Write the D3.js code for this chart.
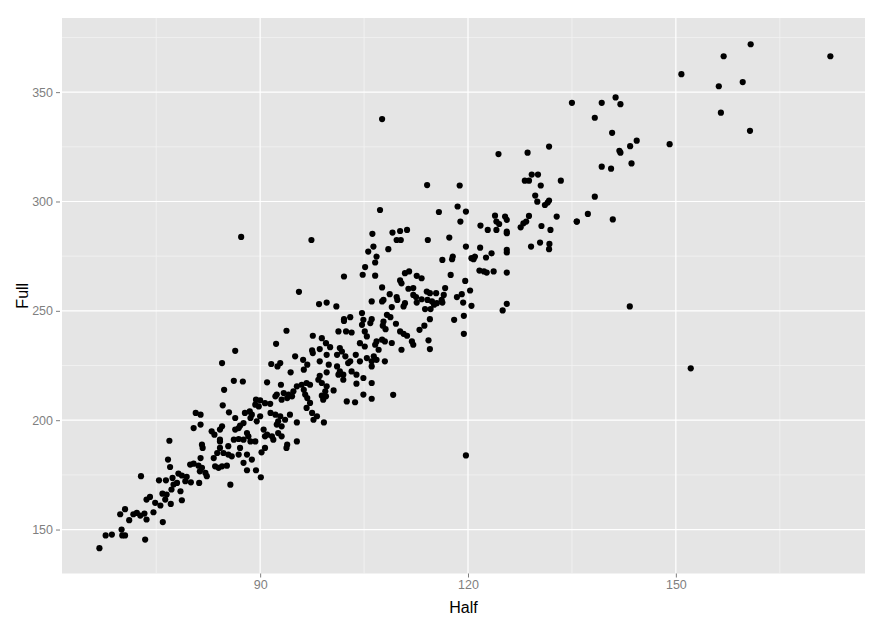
<!DOCTYPE html>
<html><head><meta charset="utf-8">
<script src="https://cdn.jsdelivr.net/npm/d3@7"></script>
<style>body{margin:0;background:#fff;}svg{display:block;font-family:"Liberation Sans",Arial,sans-serif;}</style>
</head><body><svg id="c" width="887" height="627"></svg>
<script>
const half = [
66.8,67.7,68.6,70.0,70.1,70.5,73.4,69.8,70.5,71.1,71.7,72.2,72.7,73.3,73.6,74.6,75.95,73.6,74.1,74.85,75.6,76.3,75.9,77.1,78.7,76.5,77.2,77.5,78.0,78.5,75.4,76.4,72.8,77.35,78.2,78.7,79.4,80.0,79.2,76.7,77.0,79.9,80.4,81.1,81.6,82.1,82.3,81.2,81.3,81.4,81.6,81.7,76.9,83.3,83.8,84.2,84.7,85.4,85.9,84.2,85.4,83.5,84.0,84.5,85.2,85.7,
84.8,86.2,87.5,91.0,93.0,95.3,94.8,94.1,93.4,92.4,92.2,93.1,93.9,94.6,89.4,90.0,89.3,89.8,90.7,91.45,84.6,85.5,80.7,81.4,81.4,80.4,86.4,87.8,88.5,88.8,88.6,87.6,87.1,86.9,89.5,90.0,91.5,92.2,92.9,92.6,92.4,93.1,93.6,94.3,95.3,86.4,83.0,83.4,84.2,84.5,84.2,86.2,86.9,87.6,88.1,88.3,88.6,89.3,90.5,91.0,90.7,91.7,91.9,92.6,93.1,93.9,93.8,95.3,90.7,90.2,87.1,86.9,88.1,88.8,87.6,88.1,89.4,90.1,
86.4,84.5,93.8,92.3,91.6,92.5,92.9,94.4,95.05,96.2,96.8,96.3,97.6,98.9,99.5,100.1,98.6,97.5,97.6,99.6,101.1,101.5,101.8,102.3,102.7,103.0,101.3,102.4,103.2,104.7,105.1,105.4,104.4,105.1,103.8,104.4,105.4,102.1,98.6,99.9,99.6,98.6,98.4,98.9,101.1,101.5,102.0,101.3,102.0,103.2,103.9,104.9,103.9,104.9,102.5,103.7,100.6,99.6,99.4,98.9,99.1,99.5,96.0,96.7,97.2,96.3,96.5,96.8,97.2,96.7,97.5,98.2,97.7,99.2,
95.6,102.1,105.15,106.6,104.8,106.6,98.5,99.6,101.0,107.6,107.8,107.6,106.1,108.7,109.7,109.8,109.0,110.2,110.4,110.9,111.5,112.6,113.3,111.4,112.1,112.1,112.5,113.3,114.05,114.5,115.4,114.15,114.8,115.5,115.1,113.8,114.6,110.9,110.7,112.6,104.7,104.9,106.1,105.9,102.1,103.0,107.8,108.3,108.8,107.7,108.1,106.6,106.8,107.6,108.0,109.0,107.1,106.4,106.1,106.8,109.6,110.2,110.7,111.2,111.9,112.1,110.4,113.0,113.7,114.3,114.5,114.5,108.0,106.1,
107.3,115.8,118.5,119.7,118.9,123.9,125.35,125.6,124.1,124.5,121.8,122.85,124.1,125.6,125.6,106.2,109.1,110.2,111.2,109.7,110.3,114.2,117.3,106.35,105.6,106.8,108.5,119.7,121.75,123.4,122.6,121.0,120.8,120.5,125.6,125.6,116.3,117.8,117.7,121.65,122.3,122.7,123.7,125.6,117.5,119.6,120.3,119.1,118.4,119.3,120.5,119.4,125.0,125.6,116.7,116.5,116.2,116.3,
124.4,128.6,131.7,129.2,130.1,128.2,128.8,130.5,133.4,118.8,129.7,130.0,131.1,131.5,131.7,127.6,128.0,128.4,128.8,130.6,131.9,132.8,135.7,129.1,130.4,131.75,131.7,
135.0,139.3,141.3,142.0,138.3,140.8,144.35,143.4,141.85,142.0,139.3,140.65,143.6,138.3,137.3,135.7,140.9,
160.8,156.9,172.3,150.8,156.2,159.65,156.5,160.7,149.1,
143.35,152.15,
118.0,119.4,109.2,106.1,106.1,119.7,
87.26,97.4,107.6,114.1
];
const full = [
141.5,147.3,147.7,150.0,147.3,147.3,145.4,157.0,159.3,154.3,157.0,157.6,156.4,157.3,154.6,157.9,153.4,163.7,164.9,162.2,161.0,163.7,166.4,161.7,163.4,166.0,168.3,170.6,171.3,167.5,172.5,172.5,174.4,173.6,175.6,174.7,174.1,171.6,172.1,182.0,178.6,179.7,180.1,179.2,178.2,175.9,174.4,171.3,176.6,182.7,188.8,187.3,190.6,182.7,185.0,187.3,185.0,184.3,183.5,190.3,188.1,178.9,178.2,178.9,179.2,170.5,
213.9,218.0,217.7,217.3,216.2,215.5,213.2,211.7,212.4,211.7,210.9,209.4,210.1,210.9,209.4,209.1,207.1,206.3,207.8,207.5,206.8,203.6,203.3,202.5,198.0,196.4,201.0,203.3,204.0,202.5,201.0,198.7,197.5,196.4,199.5,201.8,203.3,202.5,201.8,199.5,198.0,197.2,200.2,202.5,199.0,195.7,194.9,193.4,195.7,197.2,191.1,191.1,191.4,191.1,194.1,192.6,190.3,190.3,195.7,193.4,192.6,192.6,191.1,194.1,192.6,188.8,187.3,190.3,187.3,185.3,187.3,184.3,184.3,182.0,180.5,177.1,177.1,173.9,
231.7,226.1,240.9,234.9,225.7,224.6,226.1,221.9,229.2,227.6,225.4,223.1,238.6,237.5,235.2,233.4,232.5,231.9,230.7,229.9,229.9,233.0,231.4,229.2,226.1,226.9,240.6,240.6,240.1,243.6,240.6,238.3,235.2,233.7,229.9,226.9,228.4,245.4,226.9,225.4,221.9,220.3,218.5,217.0,224.6,222.3,220.8,220.8,218.5,222.3,220.8,219.3,216.7,211.7,208.6,208.2,213.6,215.5,213.2,211.2,209.4,210.9,216.2,217.0,216.2,213.9,211.7,210.1,207.9,205.6,203.3,201.8,200.2,199.0,
258.7,265.7,270.0,272.1,266.5,266.1,253.1,253.8,252.0,260.7,255.0,254.3,254.3,257.6,256.3,255.0,251.7,263.9,262.6,267.2,268.0,266.0,264.9,260.1,260.4,257.3,256.3,255.3,258.8,258.1,258.1,255.0,254.3,253.5,252.8,250.8,250.8,253.5,252.0,253.8,249.0,245.9,246.2,244.4,246.2,247.1,245.1,248.2,247.1,243.2,241.6,234.5,236.0,236.8,236.0,235.3,232.2,229.2,226.9,227.6,244.1,240.6,239.5,238.6,236.0,234.5,232.2,241.3,243.2,236.5,232.5,246.2,226.9,224.6,
296.1,295.2,297.7,295.4,290.8,293.5,293.1,291.6,290.8,289.7,289.0,287.0,287.0,286.2,285.5,285.2,285.8,286.5,287.0,282.4,282.4,282.4,283.5,279.4,277.1,274.8,278.2,279.4,278.9,276.3,274.4,274.8,273.6,274.1,277.9,276.7,273.3,274.8,273.6,268.4,268.0,267.5,268.0,267.5,266.4,263.7,259.3,257.6,256.3,253.8,252.3,247.7,250.2,253.2,260.4,257.3,255.0,253.8,
321.7,322.3,325.1,312.3,312.3,309.5,309.5,307.3,309.5,307.3,302.7,299.9,298.4,299.5,300.4,288.2,290.0,290.8,293.4,288.8,287.0,293.1,290.8,279.4,281.2,280.6,278.2,
345.1,345.1,347.6,344.5,338.3,331.4,327.8,325.3,323.2,322.3,315.9,315.0,317.4,302.2,294.3,290.8,291.8,
371.9,366.4,366.4,358.2,352.7,354.6,340.6,332.3,326.2,
252.0,223.7,
245.9,239.5,211.6,217.0,209.8,183.9,
283.8,282.4,337.7,307.5
];
const xTicks = [90, 120, 150];
const yTicks = [150, 200, 250, 300, 350];
const xMinor = [75, 105, 135, 165];
const yMinor = [175, 225, 275, 325, 375];

const svg = d3.select("#c");
const L = 62, R = 865, T = 18, B = 573.5;
const x = d3.scaleLinear().domain([61.4, 177.3]).range([L, R]);
const y = d3.scaleLinear().domain([129.9, 383.9]).range([B, T]);

svg.append("rect").attr("x", L).attr("y", T).attr("width", R - L).attr("height", B - T).attr("fill", "#E5E5E5");
const g = svg.append("g");
g.selectAll(".xm").data(xMinor).join("line").attr("x1", d => x(d)).attr("x2", d => x(d)).attr("y1", T).attr("y2", B).attr("stroke", "#F2F2F2").attr("stroke-width", 0.8);
g.selectAll(".ym").data(yMinor).join("line").attr("y1", d => y(d)).attr("y2", d => y(d)).attr("x1", L).attr("x2", R).attr("stroke", "#F2F2F2").attr("stroke-width", 0.8);
g.selectAll(".xM").data(xTicks).join("line").attr("x1", d => x(d)).attr("x2", d => x(d)).attr("y1", T).attr("y2", B).attr("stroke", "#FFFFFF").attr("stroke-width", 1.2);
g.selectAll(".yM").data(yTicks).join("line").attr("y1", d => y(d)).attr("y2", d => y(d)).attr("x1", L).attr("x2", R).attr("stroke", "#FFFFFF").attr("stroke-width", 1.2);

const pts = half.map((h, i) => ({h, f: full[i]}));
svg.append("g").selectAll("circle").data(pts).join("circle")
  .attr("cx", d => x(d.h)).attr("cy", d => y(d.f)).attr("r", 3.1).attr("fill", "#000");

const xAxis = d3.axisBottom(x).tickValues(xTicks).tickSize(4).tickPadding(3);
const xa = svg.append("g").attr("transform", `translate(0,${B})`).call(xAxis);
const yAxis = d3.axisLeft(y).tickValues(yTicks).tickSize(4).tickPadding(3);
const ya = svg.append("g").attr("transform", `translate(${L - 2},0)`).call(yAxis);
[xa, ya].forEach(a => {
  a.select(".domain").remove();
  a.selectAll(".tick line").attr("stroke", "#7F7F7F");
  a.selectAll(".tick text").attr("fill", "#7F7F7F").style("font-size", "12.5px").style("font-family", '"Liberation Sans", Arial, sans-serif');
});
svg.append("text").attr("x", (L + R) / 2).attr("y", 613).attr("text-anchor", "middle").attr("font-size", 16).attr("fill", "#000").text("Half");
svg.append("text").attr("transform", `translate(28,${(T + B) / 2}) rotate(-90)`).attr("text-anchor", "middle").attr("font-size", 16).attr("fill", "#000").text("Full");
</script></body></html>
